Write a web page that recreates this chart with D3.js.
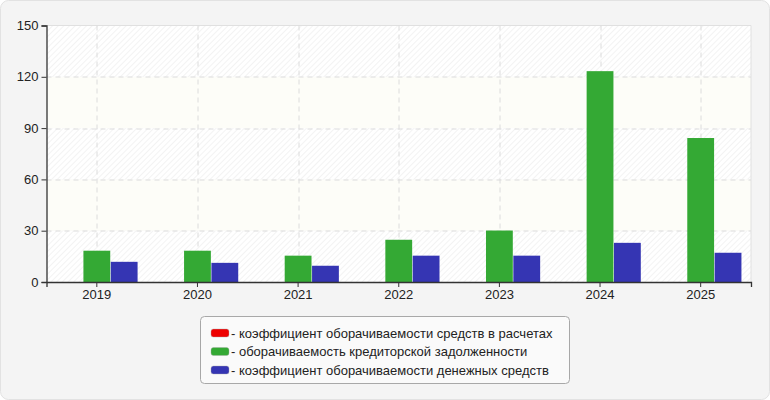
<!DOCTYPE html>
<html><head><meta charset="utf-8">
<script src="https://cdn.jsdelivr.net/npm/d3@7"></script>
<style>
html,body{margin:0;padding:0;background:#fff;}
svg{display:block;font-family:Arial,"Liberation Sans",sans-serif;}
</style></head>
<body><svg id="c" width="770" height="400"></svg>
<script>
const years = ["2019","2020","2021","2022","2023","2024","2025"];
const seriesNames = ["коэффициент оборачиваемости средств в расчетах","оборачиваемость кредиторской задолженности","коэффициент оборачиваемости денежных средств"];
const seriesColors = ["#ee0000","#34a934","#3535b3"];
const receivablesTurnover = [0,0,0,0,0,0,0];
const payablesTurnover = [18.3,18.3,15.4,24.7,30.1,123.3,84.2];
const cashTurnover = [11.8,11.2,9.5,15.4,15.4,22.9,17.1];
const yTicks = [0,30,60,90,120,150];

const series = [receivablesTurnover,payablesTurnover,cashTurnover];
const svg = d3.select("#c");
const W=770,H=400;
const m={l:46.5,r:19,t:25.5,b:118};
const pw=W-m.l-m.r, ph=H-m.t-m.b;

svg.append("rect").attr("x",0.5).attr("y",0.5).attr("width",W-1).attr("height",H-1).attr("rx",8).attr("fill","#f4f4f4").attr("stroke","#e2e2e2");

const defs=svg.append("defs");
const pat=defs.append("pattern").attr("id","hatch").attr("patternUnits","userSpaceOnUse").attr("width",4).attr("height",4).attr("patternTransform","rotate(45)");
pat.append("rect").attr("width",4).attr("height",4).attr("fill","#ffffff");
pat.append("line").attr("x1",0).attr("y1",0).attr("x2",0).attr("y2",4).attr("stroke","#ececec").attr("stroke-width",1.2);

const x=d3.scaleBand().domain(years).range([0,pw]);
const y=d3.scaleLinear().domain([0,150]).range([ph,0]);
const x1=d3.scaleBand().domain(d3.range(series.length)).range([x.bandwidth()*0.095,x.bandwidth()*0.905]).paddingInner(0.02);

const g=svg.append("g").attr("transform",`translate(${m.l},${m.t})`);
for(let i=0;i<yTicks.length-1;i++){
  g.append("rect").attr("x",0).attr("width",pw)
   .attr("y",y(yTicks[i+1])).attr("height",y(yTicks[i])-y(yTicks[i+1]))
   .attr("fill", i%2===0 ? "url(#hatch)" : "#fdfdf8");
}
g.append("line").attr("x1",0).attr("x2",pw).attr("y1",0).attr("y2",0).attr("stroke","#e0e0e0");
g.append("line").attr("x1",pw).attr("x2",pw).attr("y1",0).attr("y2",ph).attr("stroke","#e0e0e0");
g.selectAll(".hg").data(yTicks.slice(1,-1)).join("line")
 .attr("x1",0).attr("x2",pw).attr("y1",d=>Math.round(y(d))+0.5).attr("y2",d=>Math.round(y(d))+0.5)
 .attr("stroke","#dcdcdc").attr("stroke-dasharray","5,4");
g.selectAll(".vg").data(years).join("line")
 .attr("x1",d=>Math.round(x(d)+x.bandwidth()/2)+0.5).attr("x2",d=>Math.round(x(d)+x.bandwidth()/2)+0.5)
 .attr("y1",0).attr("y2",ph)
 .attr("stroke","#dcdcdc").attr("stroke-dasharray","5,4");
series.forEach((s,si)=>{
  g.selectAll(".b"+si).data(years).join("rect")
   .attr("x",(d,i)=>x(d)+x1(si))
   .attr("width",x1.bandwidth())
   .attr("y",(d,i)=>y(s[i]))
   .attr("height",(d,i)=>ph-y(s[i]))
   .attr("fill",seriesColors[si]);
});
const ya=g.append("g").call(d3.axisLeft(y).tickValues(yTicks).tickSize(5).tickPadding(3));
const xa=g.append("g").attr("transform",`translate(0,${ph})`).call(d3.axisBottom(x).tickSize(5).tickPadding(3));
[ya,xa].forEach(a=>{
  a.selectAll("path,line").attr("stroke","#333");
  a.selectAll("text").attr("fill","#222").style("font-size","13px").style("font-family","Arial,'Liberation Sans',sans-serif");
});
xa.select(".domain").attr("stroke-width",1.3);
ya.select(".domain").attr("stroke-width",1.3);

const lg=svg.append("g");
lg.append("rect").attr("x",200.5).attr("y",316.5).attr("width",369).attr("height",67).attr("rx",4)
  .attr("fill","#fafafa").attr("stroke","#a8a8a8");
seriesNames.forEach((n,i)=>{
  const yy=329+i*18.5;
  lg.append("rect").attr("x",211).attr("y",yy).attr("width",18).attr("height",8).attr("rx",2.5).attr("fill",seriesColors[i]).attr("stroke","#aaa").attr("stroke-width",0.4);
  lg.append("text").attr("x",231).attr("y",yy+8.5).attr("font-size","13px").attr("fill","#222").text("- "+n);
});
</script></body></html>
